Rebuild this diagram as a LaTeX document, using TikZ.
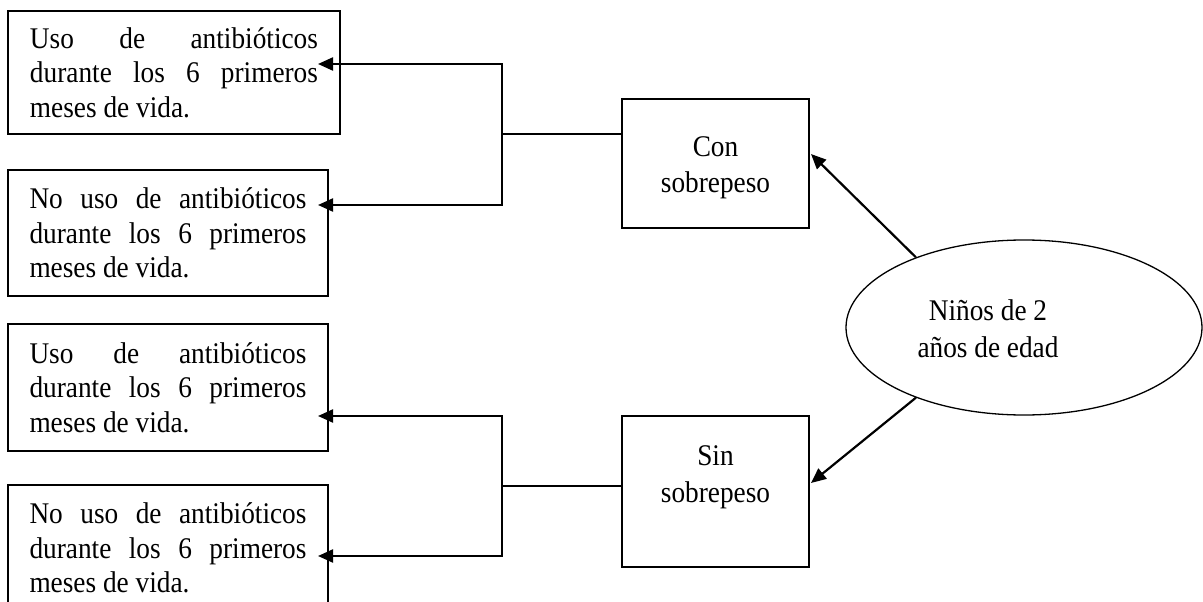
\documentclass[tikz,border=0pt]{standalone}
\usepackage{fontspec}
\setmainfont{Liberation Serif}[FakeStretch=0.91]
\usetikzlibrary{arrows.meta,shapes.geometric}
\tolerance=10000
\hbadness=10000
\begin{document}
\begin{tikzpicture}[x=1pt,y=-1pt,
  boxtxt/.style={draw,line width=1.4pt,align=justify,inner ysep=0pt,
    font=\fontsize{30}{34.5}\selectfont},
  midbox/.style={draw,line width=1.4pt,align=center,inner sep=0pt,
    minimum width=187pt,font=\fontsize{30}{36.5}\selectfont},
  arr/.style={line width=2.2pt,-{Triangle[length=15pt,width=13pt]}},
  thinline/.style={line width=1.3pt}]
\useasboundingbox (0,0) rectangle (1203,602);
% left boxes
\node[boxtxt,text width=288pt,inner xsep=22pt,minimum height=123pt] (b1) at (174,72.5)
  {Uso de antibióticos\linebreak durante los 6 primeros\linebreak meses de vida.};
\node[boxtxt,text width=277pt,inner xsep=21.5pt,minimum height=126pt] (b2) at (168,233)
  {No uso de antibióticos\linebreak durante los 6 primeros\linebreak meses de vida.};
\node[boxtxt,text width=277pt,inner xsep=21.5pt,minimum height=127pt] (b3) at (168,387.5)
  {Uso de antibióticos\linebreak durante los 6 primeros\linebreak meses de vida.};
\node[boxtxt,text width=277pt,inner xsep=21.5pt,minimum height=126pt] (b4) at (168,548)
  {No uso de antibióticos\linebreak durante los 6 primeros\linebreak meses de vida.};
% middle boxes
\node[midbox,minimum height=129pt] (con) at (715.5,163.5) {\rule{0pt}{28pt}Con\\sobrepeso};
\node[midbox,minimum height=151pt] (sin) at (715.5,491.5) {\rule{0pt}{32.5pt}Sin\\sobrepeso\\\strut};
% ellipse
\node[draw,ellipse,line width=1.3pt,minimum width=356pt,minimum height=175pt,inner sep=0pt] (ell) at (1024,327.5) {};
\node[align=center,inner sep=0pt,font=\fontsize{30}{37}\selectfont] (elltxt) at (988,328.5) {Niños de 2\\años de edad};
% coordinates
\coordinate (jt) at (502,134);
\coordinate (jb) at (502,486);
\coordinate (t1) at (318,64);
\coordinate (t2) at (318,205);
\coordinate (t3) at (318,416);
\coordinate (t4) at (318,556);
\coordinate (ce) at (811,154);
\coordinate (se) at (811,483);
% connectors
\draw[thinline] (con.west |- jt) -- (jt);
\draw[arr] (jt) |- (t1);
\draw[arr] (jt) |- (t2);
\draw[thinline] (sin.west |- jb) -- (jb);
\draw[arr] (jb) |- (t3);
\draw[arr] (jb) |- (t4);
\draw[arr] (ell.147) -- (ce);
\draw[arr] (ell.213) -- (se);
\end{tikzpicture}
\end{document}
